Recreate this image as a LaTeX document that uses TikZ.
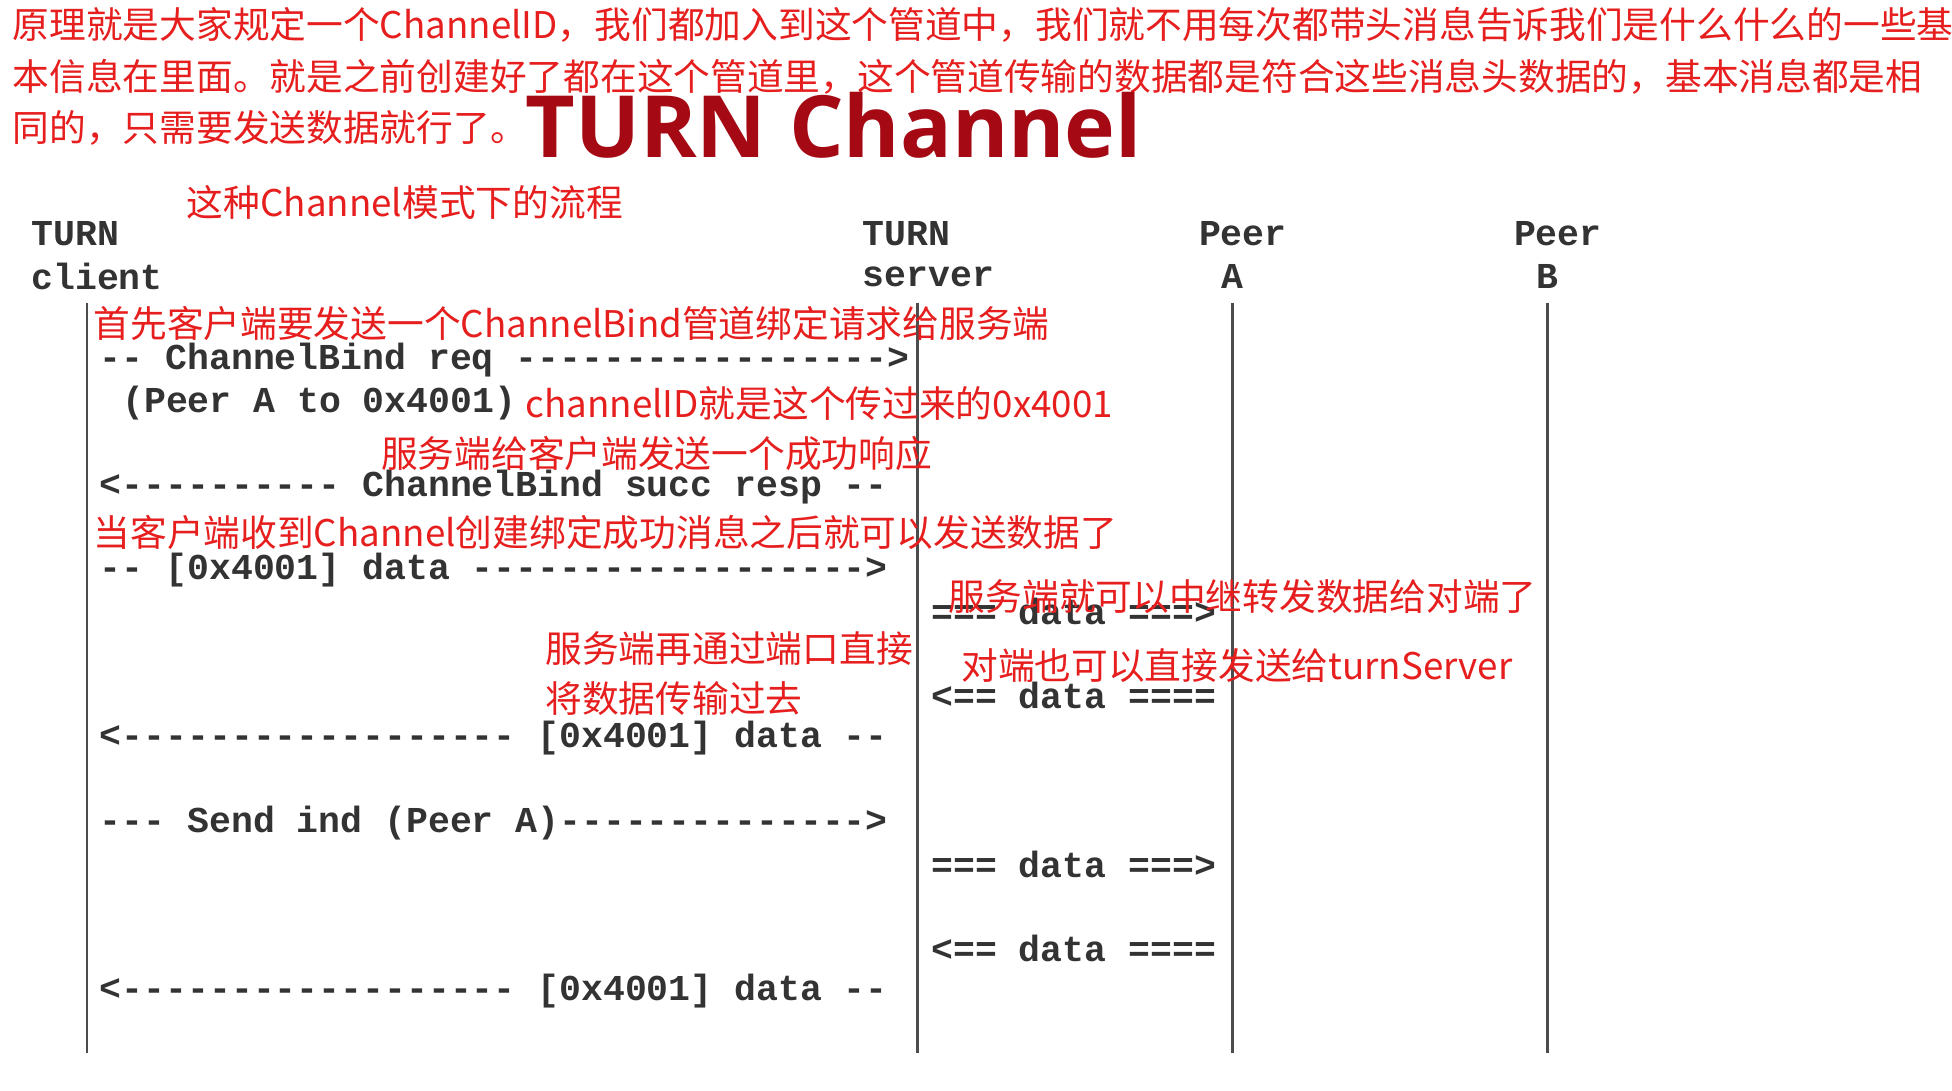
\documentclass[tikz,border=0pt]{standalone}
\usepackage{fontspec}
\setmonofont{Liberation Mono}
\newfontfamily\cjk{Noto Sans CJK SC}
\newfontfamily\ttl{Open Sans}
\definecolor{rd}{RGB}{230,30,30}
\definecolor{dr}{RGB}{165,10,20}
\begin{document}
\begin{tikzpicture}[x=1pt,y=-1pt,
  mt/.style={anchor=west,inner sep=0,font=\fontsize{29.3}{30}\selectfont\ttfamily\bfseries,text=black!80},
  rt/.style={anchor=west,inner sep=0,font=\fontsize{29.5}{30}\selectfont\cjk,text=rd},
  life/.style={line width=2pt,black!70}]
\useasboundingbox (0,0) rectangle (1568,876);
\node[rt] (t1) at (10,20) {原理就是大家规定一个ChannelID，我们都加入到这个管道中，我们就不用每次都带头消息告诉我们是什么什么的一些基};
\node[rt] (t2) at (10,62) {本信息在里面。就是之前创建好了都在这个管道里，这个管道传输的数据都是符合这些消息头数据的，基本消息都是相};
\node[rt] (t3) at (10,103) {同的，只需要发送数据就行了。};
\node[anchor=west,inner sep=0,font=\fontsize{69}{70}\selectfont\ttl\bfseries,text=dr] (title) at (422,101) {TURN Channel};
\node[rt] (t4) at (150,163) {这种Channel模式下的流程};
% headers
\node[mt] (h1) at (25,188) {TURN};
\node[mt] (h2) at (25,222) {client};
\node[mt] (h3) at (693,188) {TURN};
\node[mt] (h4) at (693,222) {server};
\node[mt] (h5) at (963,188) {Peer};
\node[mt] (h6) at (981,222) {A};
\node[mt] (h7) at (1216,188) {Peer};
\node[mt] (h8) at (1234,222) {B};
% lifelines
\coordinate (c1) at (70,243); \coordinate (c1e) at (70,846);
\coordinate (s1) at (737,243); \coordinate (s1e) at (737,846);
\coordinate (a1) at (990,243); \coordinate (a1e) at (990,846);
\coordinate (b1) at (1243,243); \coordinate (b1e) at (1243,846);
\draw[life] (c1) -- (c1e); \draw[life] (s1) -- (s1e);
\draw[life] (a1) -- (a1e); \draw[life] (b1) -- (b1e);
% messages
\node[mt] (m1) at (80,289) {-- ChannelBind req ----------------->};
\node[mt] (m2) at (98,324) {(Peer A to 0x4001)};
\node[mt] (m3) at (80,391) {<---------- ChannelBind succ resp --};
\node[mt] (m4) at (80,458) {-- [0x4001] data ------------------>};
\node[mt] (m5) at (748,491) {=== data ===>};
\node[mt] (m6) at (748,559) {<== data ====};
\node[mt] (m7) at (80,593) {<------------------ [0x4001] data --};
\node[mt] (m8) at (80,661) {--- Send ind (Peer A)-------------->};
\node[mt] (m9) at (748,694) {=== data ===>};
\node[mt] (m10) at (748,762) {<== data ====};
\node[mt] (m11) at (80,796) {<------------------ [0x4001] data --};
% red annotations
\node[rt] (r1) at (75,260) {首先客户端要发送一个ChannelBind管道绑定请求给服务端};
\node[rt] (r2) at (422,324) {channelID就是这个传过来的0x4001};
\node[rt] (r3) at (306,364) {服务端给客户端发送一个成功响应};
\node[rt] (r4) at (75,428) {当客户端收到Channel创建绑定成功消息之后就可以发送数据了};
\node[rt] (r5) at (762,479) {服务端就可以中继转发数据给对端了};
\node[rt] (r6) at (438,521) {服务端再通过端口直接};
\node[rt] (r7) at (438,561) {将数据传输过去};
\node[rt] (r8) at (772,535) {对端也可以直接发送给turnServer};
\end{tikzpicture}
\end{document}
